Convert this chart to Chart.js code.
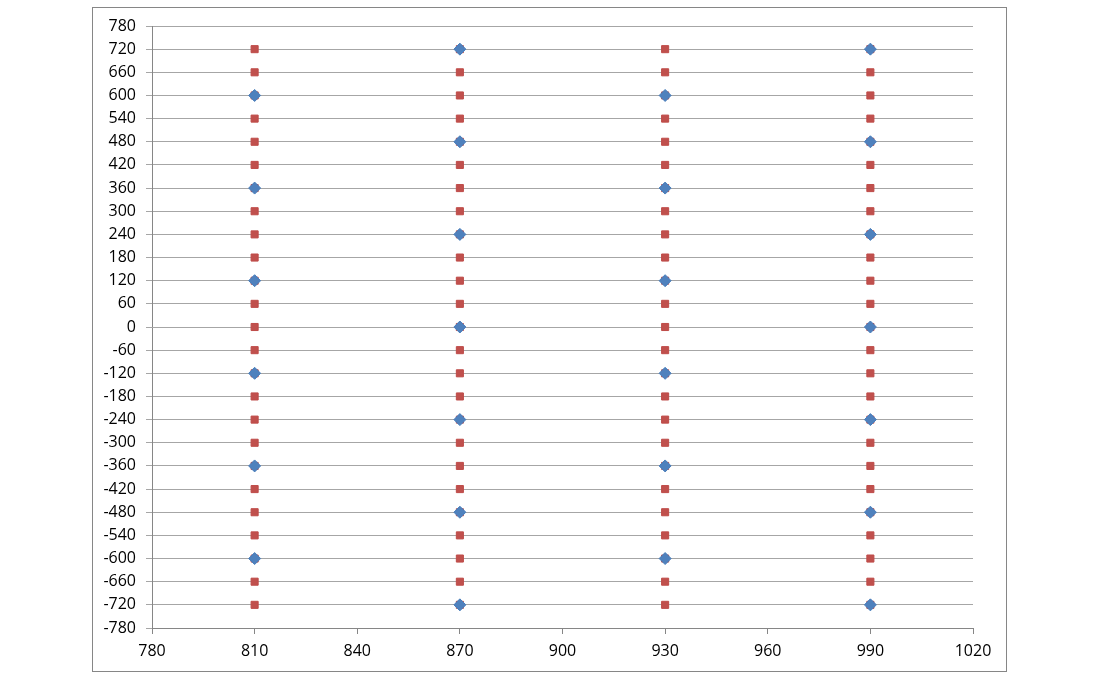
<!DOCTYPE html>
<html>
<head>
<meta charset="utf-8">
<script src="https://cdn.jsdelivr.net/npm/chart.js@4.4.1/dist/chart.umd.min.js"></script>
<style>
  html, body { margin: 0; padding: 0; background: #fff; }
  #wrap { width: 1100px; height: 680px; }
</style>
</head>
<body>
<div id="wrap"><canvas id="chart"></canvas></div>
<script>
// columns of points
const columnX = [810, 870, 930, 990];
// red squares: same levels in every column
const redLevels = [720, 660, 600, 540, 480, 420, 360, 300, 240, 180, 120, 60, 0,
  -60, -120, -180, -240, -300, -360, -420, -480, -540, -600, -660, -720];
// blue diamonds: columns 810 and 930
const blueLevelsA = [600, 360, 120, -120, -360, -600];
// blue diamonds: columns 870 and 990
const blueLevelsB = [720, 480, 240, 0, -240, -480, -720];
const blueColumnLevels = [blueLevelsA, blueLevelsB, blueLevelsA, blueLevelsB];

// axis ranges
const xMin = 780, xMax = 1020, xStep = 30;
const yMin = -780, yMax = 780, yStep = 60;

const redPoints = [];
columnX.forEach(x => redLevels.forEach(y => redPoints.push({ x: x, y: y })));
const bluePoints = [];
columnX.forEach((x, i) => blueColumnLevels[i].forEach(y => bluePoints.push({ x: x, y: y })));

const frame = {
  id: 'frame',
  beforeDraw(chart) {
    const ctx = chart.ctx;
    ctx.save();
    ctx.fillStyle = '#fff';
    ctx.fillRect(0, 0, chart.width, chart.height);
    ctx.strokeStyle = '#868686';
    ctx.lineWidth = 1;
    ctx.strokeRect(92.5, 7.5, 914, 664);
    ctx.restore();
  }
};

const gridGray = '#a6a6a6';
const axisGray = '#868686';

new Chart(document.getElementById('chart').getContext('2d'), {
  type: 'scatter',
  data: {
    datasets: [
      {
        data: bluePoints,
        pointStyle: 'rectRot',
        pointRadius: 6,
        backgroundColor: '#4F81BD',
        borderColor: '#4A7EBB',
        borderWidth: 1,
        order: 0
      },
      {
        data: redPoints,
        pointStyle: 'rect',
        pointRadius: 5,
        backgroundColor: '#C0504D',
        borderColor: '#BE4B48',
        borderWidth: 1,
        order: 1
      }
    ]
  },
  options: {
    responsive: true,
    maintainAspectRatio: false,
    animation: false,
    layout: { padding: { top: 26, right: 127, bottom: 0, left: 0 } },
    plugins: { legend: { display: false }, tooltip: { enabled: false } },
    scales: {
      x: {
        type: 'linear',
        min: xMin, max: xMax,
        afterFit(scale) { scale.height = 52; },
        ticks: { stepSize: xStep, color: '#000', padding: 8, maxRotation: 0,
          callback: v => String(v),
          font: { family: 'Open Sans', size: 16 } },
        grid: { drawOnChartArea: false, drawTicks: true, tickLength: 6, color: axisGray },
        border: { display: true, color: axisGray }
      },
      y: {
        type: 'linear',
        min: yMin, max: yMax,
        afterFit(scale) { scale.width = 152; },
        ticks: { stepSize: yStep, color: '#000', padding: 10,
          callback: v => String(v),
          font: { family: 'Open Sans', size: 16 } },
        grid: { color: gridGray, tickLength: 6, drawTicks: true },
        border: { display: true, color: axisGray }
      }
    }
  },
  plugins: [frame]
});
</script>
</body>
</html>
